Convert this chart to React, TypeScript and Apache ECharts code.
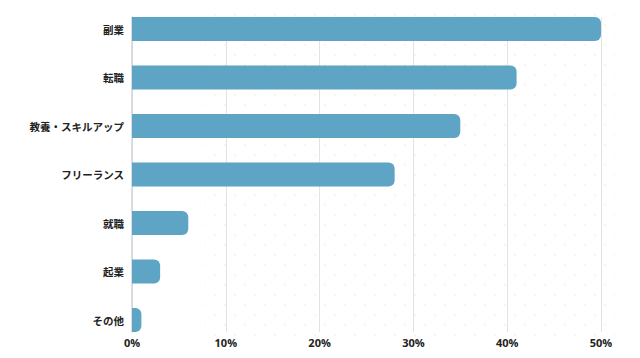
import React, { useEffect, useRef } from "react";
import * as echarts from "echarts";

const categories = ["副業", "転職", "教養・スキルアップ", "フリーランス", "就職", "起業", "その他"];
const values = [50, 41, 35, 28, 6, 3, 1];
const xTicks = [0, 10, 20, 30, 40, 50];

function makeDots(): HTMLCanvasElement {
  const c = document.createElement("canvas");
  c.width = 20;
  c.height = 20;
  const ctx = c.getContext("2d")!;
  ctx.fillStyle = "#fdf5e8";
  const pts = [
    [5, 5],
    [15, 15],
  ];
  for (const [x, y] of pts) {
    ctx.beginPath();
    ctx.arc(x, y, 1.3, 0, Math.PI * 2);
    ctx.fill();
  }
  return c;
}

export default function App() {
  const ref = useRef<HTMLDivElement>(null);
  useEffect(() => {
    if (!ref.current) return;
    const chart = echarts.init(ref.current, null, { renderer: "svg" });
    const n = categories.length;
    const plotTop = 17;
    const plotBottom = 332;
    const barH = 24;
    const step = (plotBottom - plotTop - barH) / (n - 1);
    const bandTop = plotTop + barH / 2 - step / 2;
    const bandBottom = plotBottom - barH / 2 + step / 2;
    let dots: any = "transparent";
    try {
      dots = { image: makeDots(), repeat: "repeat" };
    } catch (e) {}
    chart.setOption({
      animation: false,
      graphic: [
        {
          type: "rect",
          z: -10,
          silent: true,
          shape: { x: 205, y: 8, width: 410, height: 334 },
          style: { fill: dots },
        },
      ],
      grid: [
        { left: 132, right: 640 - 601, top: plotTop, bottom: 358 - plotBottom, containLabel: false },
        { left: 132, right: 640 - 601, top: bandTop, bottom: 358 - bandBottom, containLabel: false },
      ],
      xAxis: [
        {
          gridIndex: 0,
          type: "value",
          min: 0,
          max: 50,
          interval: 10,
          axisLine: { show: false },
          axisTick: { show: false },
          splitLine: { show: true, lineStyle: { color: "#e3e3e3", width: 1 } },
          axisLabel: {
            margin: 5,
            formatter: (v: number) => (xTicks.includes(v) ? v + "%" : ""),
            color: "#222",
            fontSize: 11,
            fontWeight: "bold",
            fontFamily: "Open Sans",
          },
        },
        {
          gridIndex: 1,
          type: "value",
          min: 0,
          max: 50,
          show: false,
        },
      ],
      yAxis: [
        {
          gridIndex: 0,
          type: "value",
          axisLine: { show: true, lineStyle: { color: "#cfd4d8", width: 1.5 } },
          axisTick: { show: false },
          axisLabel: { show: false },
          splitLine: { show: false },
        },
        {
          gridIndex: 1,
          type: "category",
          data: categories,
          inverse: true,
          axisLine: { show: false },
          axisTick: { show: false },
          splitLine: { show: false },
          axisLabel: {
            margin: 8,
            color: "#222",
            fontSize: 10.5,
            fontWeight: "bold",
            fontFamily: "Noto Sans CJK JP",
          },
        },
      ],
      series: [
        {
          type: "bar",
          xAxisIndex: 1,
          yAxisIndex: 1,
          data: values,
          barWidth: barH,
          z: 5,
          itemStyle: {
            color: "#5ea4c4",
            borderRadius: [0, 6, 6, 0],
          },
        },
      ],
    });
    return () => chart.dispose();
  }, []);
  return <div ref={ref} style={{ width: 640, height: 358, position: "absolute", left: 0, top: 0 }} />;
}
